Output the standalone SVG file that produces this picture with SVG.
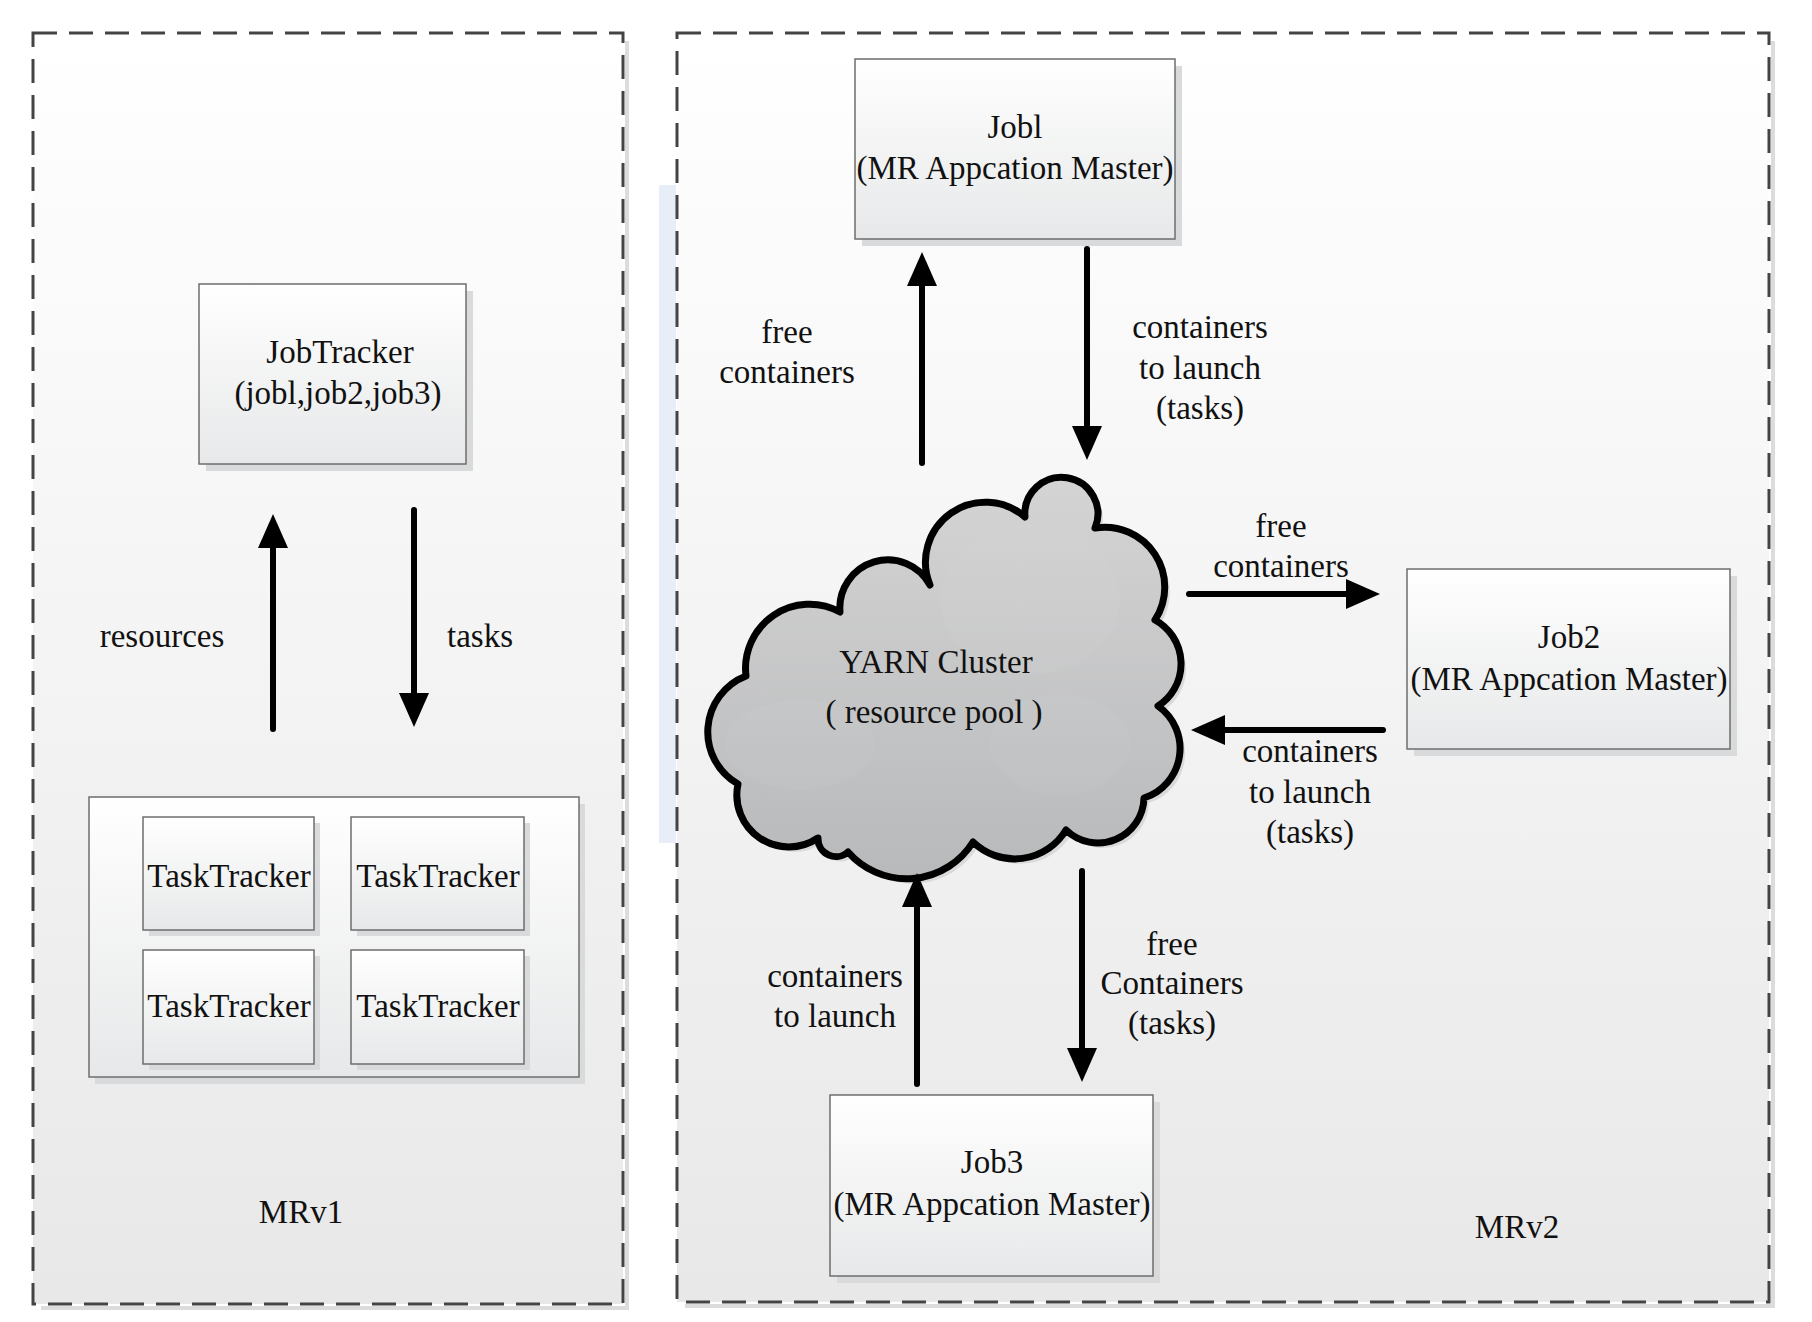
<svg xmlns="http://www.w3.org/2000/svg" width="1812" height="1322" viewBox="0 0 1812 1322">
  <style>
    .t { font-family: "Liberation Serif", "Times New Roman", serif; font-size: 33px; fill: #111; text-anchor: middle; }
    .panel { fill: url(#panelBg); stroke: #444; stroke-width: 3; stroke-dasharray: 24 12; }
    .pshadow { fill: none; stroke: #dcdcdc; stroke-width: 4; }
    .box { fill: url(#nodeBg); stroke: #6e6e6e; stroke-width: 1.5; }
    .shadow { fill: #d9dadb; }
    .arrow { stroke: #000; stroke-width: 6; stroke-linecap: round; fill: none; marker-end: url(#ah); }
  </style>
  <defs>
    <linearGradient id="panelBg" x1="0" y1="0" x2="0" y2="1">
      <stop offset="0" stop-color="#ffffff"/>
      <stop offset="1" stop-color="#e8e8e8"/>
    </linearGradient>
    <linearGradient id="nodeBg" x1="0" y1="0" x2="0" y2="1">
      <stop offset="0" stop-color="#ffffff"/>
      <stop offset="1" stop-color="#e7e8e9"/>
    </linearGradient>
    <linearGradient id="cloudBg" x1="0" y1="0" x2="0" y2="1">
      <stop offset="0" stop-color="#d4d4d5"/>
      <stop offset="1" stop-color="#b8b9ba"/>
    </linearGradient>
    <marker id="ah" markerUnits="userSpaceOnUse" viewBox="0 0 36 32" markerWidth="36" markerHeight="32" refX="24" refY="16" orient="auto">
      <path d="M0,1 L34,16 L0,31 Z" fill="#000"/>
    </marker>
  </defs>

  <rect width="1812" height="1322" fill="#ffffff"/>
  <rect x="659" y="185" width="17" height="658" fill="#e7eef7"/>

  <g id="panel-mrv1">
    <path class="pshadow" d="M627,41 V1308 H41"/>
    <rect class="panel" x="33" y="33" width="590" height="1271"/>
    <text class="t" x="301" y="1223">MRv1</text>
  </g>

  <g id="panel-mrv2">
    <path class="pshadow" d="M1773,41 V1306 H685"/>
    <rect class="panel" x="677" y="33" width="1092" height="1269"/>
    <text class="t" x="1517" y="1238">MRv2</text>
  </g>

  <g id="node-jobtracker">
    <rect class="shadow" x="206" y="291" width="267" height="180"/>
    <rect class="box" x="199" y="284" width="267" height="180"/>
    <text class="t" x="340" y="363">JobTracker</text>
    <text class="t" x="338" y="404">(jobl,job2,job3)</text>
  </g>

  <g id="node-tasktrackers">
    <rect class="shadow" x="95" y="804" width="490" height="280"/>
    <rect class="box" x="89" y="797" width="490" height="280"/>
    <g id="node-tt1">
      <rect class="shadow" x="149" y="823" width="171" height="113"/>
      <rect class="box" x="143" y="817" width="171" height="113"/>
      <text class="t" x="229" y="887">TaskTracker</text>
    </g>
    <g id="node-tt2">
      <rect class="shadow" x="357" y="823" width="173" height="113"/>
      <rect class="box" x="351" y="817" width="173" height="113"/>
      <text class="t" x="438" y="887">TaskTracker</text>
    </g>
    <g id="node-tt3">
      <rect class="shadow" x="149" y="956" width="171" height="114"/>
      <rect class="box" x="143" y="950" width="171" height="114"/>
      <text class="t" x="229" y="1017">TaskTracker</text>
    </g>
    <g id="node-tt4">
      <rect class="shadow" x="357" y="956" width="173" height="114"/>
      <rect class="box" x="351" y="950" width="173" height="114"/>
      <text class="t" x="438" y="1017">TaskTracker</text>
    </g>
  </g>

  <g id="node-job1">
    <rect class="shadow" x="862" y="66" width="320" height="180"/>
    <rect class="box" x="855" y="59" width="320" height="180"/>
    <text class="t" x="1015" y="138">Jobl</text>
    <text class="t" x="1015" y="179">(MR Appcation Master)</text>
  </g>

  <g id="node-job2">
    <rect class="shadow" x="1414" y="576" width="323" height="180"/>
    <rect class="box" x="1407" y="569" width="323" height="180"/>
    <text class="t" x="1569" y="648">Job2</text>
    <text class="t" x="1569" y="690">(MR Appcation Master)</text>
  </g>

  <g id="node-job3">
    <rect class="shadow" x="837" y="1102" width="323" height="181"/>
    <rect class="box" x="830" y="1095" width="323" height="181"/>
    <text class="t" x="992" y="1173">Job3</text>
    <text class="t" x="992" y="1215">(MR Appcation Master)</text>
  </g>

  <g id="node-yarn">
    <path transform="translate(5,5)" fill="#dadada" d="M746,676 A64,64 0 0 1 840,612 A48,48 0 0 1 930,585 A60,60 0 0 1 1025,517 A36.5,36.5 0 1 1 1095,528 A60,60 0 0 1 1155,620 A50,50 0 0 1 1158,706 A52,52 0 0 1 1144,798 A46,46 0 0 1 1066,830 A60,60 0 0 1 973,842 A78,78 0 0 1 848,852 A18,18 0 0 1 818,838 A52,52 0 0 1 738,784 A60,60 0 0 1 746,676 Z"/>
    <path fill="url(#cloudBg)" stroke="#000" stroke-width="7" stroke-linejoin="round" d="M746,676 A64,64 0 0 1 840,612 A48,48 0 0 1 930,585 A60,60 0 0 1 1025,517 A36.5,36.5 0 1 1 1095,528 A60,60 0 0 1 1155,620 A50,50 0 0 1 1158,706 A52,52 0 0 1 1144,798 A46,46 0 0 1 1066,830 A60,60 0 0 1 973,842 A78,78 0 0 1 848,852 A18,18 0 0 1 818,838 A52,52 0 0 1 738,784 A60,60 0 0 1 746,676 Z"/>
    <ellipse cx="1030" cy="600" rx="90" ry="75" fill="#ffffff" opacity="0.04"/>
    <ellipse cx="800" cy="745" rx="75" ry="45" fill="#ffffff" opacity="0.04"/>
    <ellipse cx="1060" cy="745" rx="70" ry="50" fill="#ffffff" opacity="0.04"/>
    <text class="t" x="936" y="673">YARN Cluster</text>
    <text class="t" x="934" y="723">( resource pool )</text>
  </g>

  <g id="connectors">
    <line class="arrow" x1="273" y1="729" x2="273" y2="524"/>
    <line class="arrow" x1="414" y1="510" x2="414" y2="717"/>
    <line class="arrow" x1="922" y1="463" x2="922" y2="262"/>
    <line class="arrow" x1="1087" y1="249" x2="1087" y2="450"/>
    <line class="arrow" x1="1189" y1="594" x2="1370" y2="594"/>
    <line class="arrow" x1="1383" y1="730" x2="1201" y2="730"/>
    <line class="arrow" x1="917" y1="1084" x2="917" y2="883"/>
    <line class="arrow" x1="1082" y1="871" x2="1082" y2="1072"/>
  </g>

  <g id="labels">
    <text class="t" x="162" y="647">resources</text>
    <text class="t" x="480" y="647">tasks</text>
    <text class="t" x="787" y="343">free</text>
    <text class="t" x="787" y="383">containers</text>
    <text class="t" x="1200" y="338">containers</text>
    <text class="t" x="1200" y="379">to launch</text>
    <text class="t" x="1200" y="419">(tasks)</text>
    <text class="t" x="1281" y="537">free</text>
    <text class="t" x="1281" y="577">containers</text>
    <text class="t" x="1310" y="762">containers</text>
    <text class="t" x="1310" y="803">to launch</text>
    <text class="t" x="1310" y="843">(tasks)</text>
    <text class="t" x="835" y="987">containers</text>
    <text class="t" x="835" y="1027">to launch</text>
    <text class="t" x="1172" y="955">free</text>
    <text class="t" x="1172" y="994">Containers</text>
    <text class="t" x="1172" y="1034">(tasks)</text>
  </g>
</svg>
